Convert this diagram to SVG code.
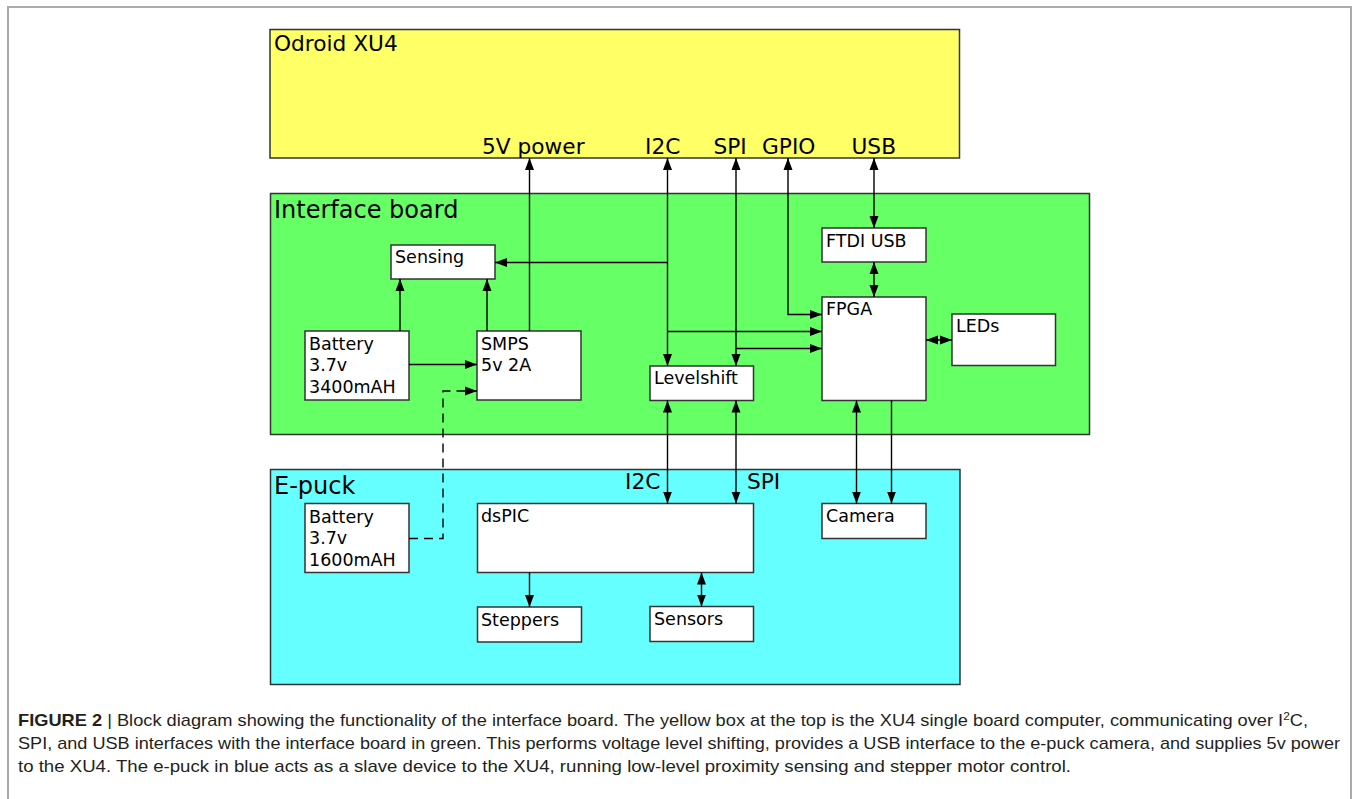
<svg xmlns="http://www.w3.org/2000/svg" width="1356" height="799" viewBox="0 0 1356 799">
<style>
.frame{fill:none;stroke:#aaaaaa;stroke-width:2}
.big{stroke:#333;stroke-width:1.5}
.box{fill:#fff;stroke:#333;stroke-width:1.5}
.t{font-family:"DejaVu Sans",Verdana,sans-serif;fill:#000}
.lbl{font-size:21.7px}
.ttl{font-size:24px}
.s{font-size:17.5px}
.con{fill:none;stroke:#000;stroke-width:1.4}
.dash{stroke-dasharray:9,6}
.cap{font-family:"Liberation Sans",Arial,Helvetica,sans-serif;font-size:17px;fill:#231f20}
</style>
<defs>
<marker id="ah" markerUnits="userSpaceOnUse" markerWidth="12" markerHeight="10" viewBox="0 0 12 10" refX="12" refY="5" orient="auto-start-reverse">
<path d="M0,0.5 L12,5 L0,9.5 z" fill="#000" stroke="none"/>
</marker>
</defs>
<rect class="frame" x="8" y="7" width="1343" height="830"/>

<g id="odroid">
<rect class="big" x="270" y="29.5" width="689.5" height="128.5" fill="#ffff66"/>
<text class="t lbl" x="274" y="51">Odroid XU4</text>
<text class="t lbl" x="482" y="154">5V power</text>
<text class="t lbl" x="645" y="154">I2C</text>
<text class="t lbl" x="713.5" y="154">SPI</text>
<text class="t lbl" x="762" y="154">GPIO</text>
<text class="t lbl" x="851.5" y="154">USB</text>
</g>

<g id="interface-board">
<rect class="big" x="270.5" y="193.5" width="819" height="241" fill="#66ff66"/>
<text class="t ttl" x="274" y="218">Interface board</text>
</g>

<g id="epuck">
<rect class="big" x="270.5" y="469.5" width="689.5" height="215" fill="#66ffff"/>
<text class="t ttl" x="274" y="494">E-puck</text>
<text class="t lbl" x="625" y="489">I2C</text>
<text class="t lbl" x="747" y="489">SPI</text>
</g>

<g id="sensing">
<rect class="box" x="391" y="245" width="104" height="34"/>
<text class="t s" x="395" y="263">Sensing</text>
</g>
<g id="battery1">
<rect class="box" x="305" y="331" width="104" height="69"/>
<text class="t s" x="309" y="349.5">Battery</text>
<text class="t s" x="309" y="371">3.7v</text>
<text class="t s" x="309" y="392.5">3400mAH</text>
</g>
<g id="smps">
<rect class="box" x="477" y="331" width="104" height="69"/>
<text class="t s" x="481" y="349.5">SMPS</text>
<text class="t s" x="481" y="371">5v 2A</text>
</g>
<g id="levelshift">
<rect class="box" x="650" y="366" width="103.5" height="34.5"/>
<text class="t s" x="654" y="384">Levelshift</text>
</g>
<g id="ftdi">
<rect class="box" x="822" y="228" width="104" height="34"/>
<text class="t s" x="826" y="246.5">FTDI USB</text>
</g>
<g id="fpga">
<rect class="box" x="822" y="297" width="104" height="103.5"/>
<text class="t s" x="826" y="315">FPGA</text>
</g>
<g id="leds">
<rect class="box" x="952" y="314" width="103.5" height="51.5"/>
<text class="t s" x="956" y="332">LEDs</text>
</g>
<g id="battery2">
<rect class="box" x="305" y="503.5" width="104" height="69"/>
<text class="t s" x="309" y="522.5">Battery</text>
<text class="t s" x="309" y="544">3.7v</text>
<text class="t s" x="309" y="565.5">1600mAH</text>
</g>
<g id="dspic">
<rect class="box" x="477.5" y="503.5" width="276" height="69"/>
<text class="t s" x="481" y="522">dsPIC</text>
</g>
<g id="camera">
<rect class="box" x="822" y="503.5" width="104" height="35"/>
<text class="t s" x="826" y="522">Camera</text>
</g>
<g id="steppers">
<rect class="box" x="477.5" y="607" width="104" height="35"/>
<text class="t s" x="481" y="625.5">Steppers</text>
</g>
<g id="sensors">
<rect class="box" x="650" y="606.5" width="103.5" height="35"/>
<text class="t s" x="654" y="625">Sensors</text>
</g>

<g id="connectors">
<path class="con" d="M529.5,331 V158" marker-end="url(#ah)"/>
<path class="con" d="M667.5,158 V366" marker-start="url(#ah)" marker-end="url(#ah)"/>
<path class="con" d="M667.5,262.5 H495" marker-end="url(#ah)"/>
<path class="con" d="M667.5,331.5 H822" marker-end="url(#ah)"/>
<path class="con" d="M736,158 V366" marker-start="url(#ah)" marker-end="url(#ah)"/>
<path class="con" d="M736,348.5 H822" marker-end="url(#ah)"/>
<path class="con" d="M822,314.5 H788 V158" marker-start="url(#ah)" marker-end="url(#ah)"/>
<path class="con" d="M874,158 V228" marker-start="url(#ah)" marker-end="url(#ah)"/>
<path class="con" d="M874,262 V297" marker-start="url(#ah)" marker-end="url(#ah)"/>
<path class="con" d="M926,340 H952" marker-start="url(#ah)" marker-end="url(#ah)"/>
<path class="con" d="M667.5,400.5 V503.5" marker-start="url(#ah)" marker-end="url(#ah)"/>
<path class="con" d="M736,400.5 V503.5" marker-start="url(#ah)" marker-end="url(#ah)"/>
<path class="con" d="M856.5,400.5 V503.5" marker-start="url(#ah)" marker-end="url(#ah)"/>
<path class="con" d="M891.5,400.5 V503.5" marker-end="url(#ah)"/>
<path class="con" d="M400,331 V279" marker-end="url(#ah)"/>
<path class="con" d="M487,331 V279" marker-end="url(#ah)"/>
<path class="con" d="M409,364.5 H477" marker-end="url(#ah)"/>
<path class="con dash" d="M409,538.5 H443 V391 H477" marker-end="url(#ah)"/>
<path class="con" d="M529.5,572.5 V607" marker-end="url(#ah)"/>
<path class="con" d="M701.5,572.5 V606.5" marker-start="url(#ah)" marker-end="url(#ah)"/>
</g>

<g id="caption">
<text class="cap" x="18" y="726" textLength="1290" lengthAdjust="spacingAndGlyphs"><tspan font-weight="bold">FIGURE 2</tspan> | Block diagram showing the functionality of the interface board. The yellow box at the top is the XU4 single board computer, communicating over I<tspan dy="-6" font-size="11">2</tspan><tspan dy="6">C,</tspan></text>
<text class="cap" x="18" y="749" textLength="1322" lengthAdjust="spacingAndGlyphs">SPI, and USB interfaces with the interface board in green. This performs voltage level shifting, provides a USB interface to the e-puck camera, and supplies 5v power</text>
<text class="cap" x="18" y="772" textLength="1053" lengthAdjust="spacingAndGlyphs">to the XU4. The e-puck in blue acts as a slave device to the XU4, running low-level proximity sensing and stepper motor control.</text>
</g>
</svg>
